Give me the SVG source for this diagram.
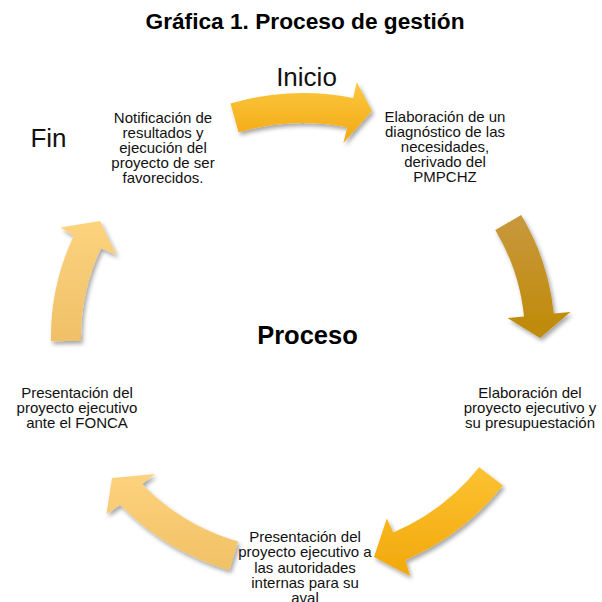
<svg xmlns="http://www.w3.org/2000/svg" width="602" height="602" viewBox="0 0 602 602">
  <style>
    .t { font-family: "Liberation Sans", Arial, sans-serif; font-size: 15px; fill: #111; text-anchor: middle; }
    .lbl { font-family: "Liberation Sans", Arial, sans-serif; font-size: 26px; fill: #111; text-anchor: middle; }
    .title { font-family: "Liberation Sans", Arial, sans-serif; font-size: 22.7px; font-weight: bold; fill: #000; text-anchor: middle; }
    .proc { font-family: "Liberation Sans", Arial, sans-serif; font-size: 25.5px; font-weight: bold; fill: #000; text-anchor: middle; }
    .arrow { filter: url(#shadow); }
  </style>
  <defs>
    <filter id="shadow" x="-20%" y="-20%" width="150%" height="150%">
      <feDropShadow dx="2" dy="3" stdDeviation="2.2" flood-color="#000" flood-opacity="0.35"/>
    </filter>
    <linearGradient id="gTop" x1="0" y1="0" x2="0" y2="1">
      <stop offset="0" stop-color="#FBC83F"/>
      <stop offset="1" stop-color="#F3A812"/>
    </linearGradient>
    <linearGradient id="gRight" x1="0" y1="0" x2="0" y2="1">
      <stop offset="0" stop-color="#C8983E"/>
      <stop offset="1" stop-color="#BF8A06"/>
    </linearGradient>
    <linearGradient id="gBR" x1="0" y1="0" x2="0" y2="1">
      <stop offset="0" stop-color="#FCC232"/>
      <stop offset="1" stop-color="#F2A80A"/>
    </linearGradient>
    <linearGradient id="gBL" x1="0" y1="0" x2="0" y2="1">
      <stop offset="0" stop-color="#FDD27E"/>
      <stop offset="1" stop-color="#F1C164"/>
    </linearGradient>
    <linearGradient id="gLeft" x1="0" y1="0" x2="0" y2="1">
      <stop offset="0" stop-color="#FDD37E"/>
      <stop offset="1" stop-color="#EFC068"/>
    </linearGradient>
  </defs>

  <rect x="0" y="0" width="602" height="602" fill="#fff"/>

  <text class="title" x="305" y="29">Gráfica 1. Proceso de gestión</text>

  <g id="connectors">
    <path id="arrow-top" class="arrow" fill="url(#gTop)" d="M230.5,103.5 A252,244 0 0 1 353.2,97.9 L356.8,82.2 L372,111 L343.4,143 L347.3,127.3 A222,214 0 0 0 238.6,132.2 Z"/>
    <path id="arrow-right" class="arrow" fill="url(#gRight)" d="M521.2,215 A252,244 0 0 1 553.8,313.6 L570.5,312.1 L540,338 L507.5,318 L524,316.5 A222,214 0 0 0 495.3,230 Z"/>
    <path id="arrow-bottom-right" class="arrow" fill="url(#gBR)" d="M502.9,485.5 A252,244 0 0 1 405.5,559.9 L410,576 L374,557 L386.8,518.5 L393.3,532.5 A222,214 0 0 0 479.1,467.3 Z"/>
    <path id="arrow-bottom-left" class="arrow" fill="url(#gBL)" d="M229.3,570.3 A252,244 0 0 1 120.2,505 L106.5,514 L112,478 L155,474 L142,484.3 A222,214 0 0 0 238.1,541.6 Z"/>
    <path id="arrow-left" class="arrow" fill="url(#gLeft)" d="M51,341.3 A252,244 0 0 1 73.7,235.8 L60.5,227.5 L100,221 L116.5,255 L101,248.3 A222,214 0 0 0 81,340.7 Z"/>
  </g>

  <text class="lbl" x="306.5" y="86">Inicio</text>
  <text class="lbl" x="48.5" y="147">Fin</text>
  <text class="proc" x="307.5" y="344">Proceso</text>

  <g id="node-diagnostico">
    <text class="t" x="445" y="122"><tspan x="445">Elaboración de un</tspan><tspan x="445" dy="15">diagnóstico de las</tspan><tspan x="445" dy="15">necesidades,</tspan><tspan x="445" dy="15">derivado del</tspan><tspan x="445" dy="15">PMPCHZ</tspan></text>
  </g>

  <g id="node-elaboracion">
    <text class="t" x="530" y="398"><tspan x="530">Elaboración del</tspan><tspan x="530" dy="15">proyecto ejecutivo y</tspan><tspan x="530" dy="15">su presupuestación</tspan></text>
  </g>

  <g id="node-autoridades">
    <text class="t" x="305" y="542"><tspan x="305">Presentación del</tspan><tspan x="305" dy="15.3">proyecto ejecutivo a</tspan><tspan x="305" dy="15.3">las autoridades</tspan><tspan x="305" dy="15.3">internas para su</tspan><tspan x="305" dy="15.3">aval</tspan></text>
  </g>

  <g id="node-fonca">
    <text class="t" x="77" y="398"><tspan x="77">Presentación del</tspan><tspan x="77" dy="15">proyecto ejecutivo</tspan><tspan x="77" dy="15">ante el FONCA</tspan></text>
  </g>

  <g id="node-notificacion">
    <text class="t" x="163" y="123"><tspan x="163">Notificación de</tspan><tspan x="163" dy="15">resultados y</tspan><tspan x="163" dy="15">ejecución del</tspan><tspan x="163" dy="15">proyecto de ser</tspan><tspan x="163" dy="15">favorecidos.</tspan></text>
  </g>
</svg>
